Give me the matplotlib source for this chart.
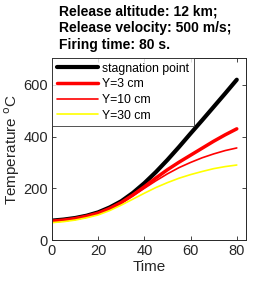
"""Surface temperature vs time for several positions."""

import matplotlib

matplotlib.use("Agg")
import matplotlib.pyplot as plt

plt.rcParams["font.family"] = ["Liberation Sans", "DejaVu Sans"]

time_s = [0, 5, 10, 15, 20, 25, 30, 35, 40, 45, 50, 55, 60, 65, 70, 75, 80]
stagnation = [75, 79, 85, 94, 107, 126, 150, 182, 220, 263, 310, 360, 412, 463, 515, 567, 620]
y_3cm = [73, 77, 83, 92, 104, 122, 145, 174, 206, 240, 272, 301, 328, 355, 382, 407, 430]
y_10cm = [72, 76, 82, 91, 103, 121, 143, 171, 200, 229, 256, 280, 300, 318, 333, 346, 356]
y_30cm = [67, 71, 77, 86, 97, 114, 135, 158, 181, 203, 222, 239, 253, 265, 276, 284, 290]

series = [
    ("stagnation point", stagnation, "black", 3.0),
    ("Y=3 cm", y_3cm, "red", 2.5),
    ("Y=10 cm", y_10cm, "red", 1.2),
    ("Y=30 cm", y_30cm, "yellow", 1.2),
]

edge = "#262626"

fig = plt.figure(figsize=(2.73, 2.81), dpi=100)
ax = fig.add_axes([52 / 273, 1 - 240 / 281, 194 / 273, 182 / 281])

for label, values, color, width in series:
    ax.plot(time_s, values, color=color, linewidth=width, label=label,
            solid_capstyle="round")

ax.set_xlim(0, 84)
ax.set_ylim(0, 704)
ax.set_xticks([0, 20, 40, 60, 80])
ax.set_yticks([0, 200, 400, 600])
ax.tick_params(direction="in", top=True, right=True, length=3, width=0.6,
               colors=edge, labelsize=10.5, pad=3)
for side in ax.spines.values():
    side.set_color(edge)
    side.set_linewidth(0.7)

ax.set_xlabel("Time", fontsize=11, color=edge, labelpad=1)
ax.set_ylabel("Temperature $^{\\mathrm{o}}$C", fontsize=11, color=edge, labelpad=1)

leg = ax.legend(loc="upper left", fontsize=8.8, frameon=True, fancybox=False,
                borderaxespad=0, handlelength=3.4, handletextpad=0.3,
                borderpad=0.38, labelspacing=0.3)
leg.get_frame().set_edgecolor(edge)
leg.get_frame().set_linewidth(0.7)

fig.text(59 / 273, 1 - 4 / 281,
         "Release altitude: 12 km;\nRelease velocity: 500 m/s;\nFiring time: 80 s.",
         ha="left", va="top", fontsize=10, fontweight="bold",
         linespacing=1.25)

fig.savefig("out.png", dpi=100)
